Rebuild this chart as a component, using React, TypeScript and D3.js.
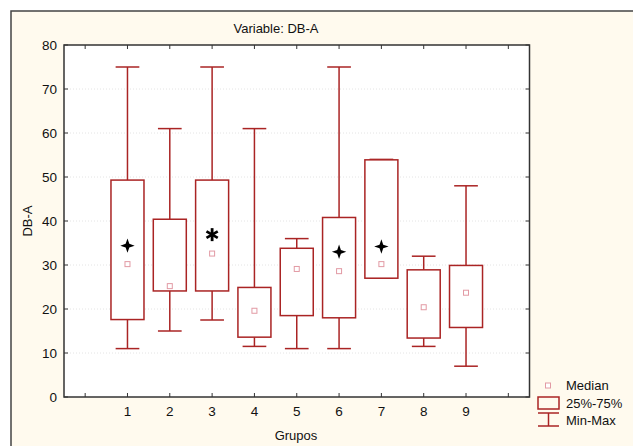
import React from "react";
import * as d3 from "d3";

const groups = [1, 2, 3, 4, 5, 6, 7, 8, 9];
const minVals = [11, 15, 17.5, 11.5, 11, 11, 27, 11.5, 7];
const q1Vals = [17.6, 24.1, 24.1, 13.6, 18.5, 18.0, 27.0, 13.4, 15.8];
const medianVals = [30.2, 25.2, 32.6, 19.6, 29.1, 28.6, 30.2, 20.4, 23.7];
const q3Vals = [49.3, 40.4, 49.3, 24.9, 33.8, 40.8, 53.9, 28.9, 29.9];
const maxVals = [75, 61, 75, 61, 36, 75, 54, 32, 48];
const markerVals = [34.4, null, 36.9, null, null, 33.0, 34.2, null, null];
const markerShapes = ["star", null, "asterisk", null, null, "star", "star", null, null];
const yTicks = [0, 10, 20, 30, 40, 50, 60, 70, 80];
const xTickPositions = [0, 1, 2, 3, 4, 5, 6, 7, 8, 9, 10];

const W = 633;
const H = 446;
const plot = { left: 64, top: 45, right: 529.5, bottom: 397 };
const RED = "#aa2424";
const FONT = "Liberation Sans, Arial, sans-serif";

function starPath(cx: number, cy: number, r: number) {
  const ri = r * 0.36;
  const pts: [number, number][] = [];
  for (let i = 0; i < 8; i++) {
    const a = (Math.PI / 4) * i - Math.PI / 2;
    const rr = i % 2 === 0 ? r : ri;
    pts.push([cx + rr * Math.cos(a), cy + rr * Math.sin(a)]);
  }
  return "M" + pts.map((p) => p.join(",")).join("L") + "Z";
}

export default function App() {
  const x = d3.scaleLinear().domain([-0.5, 10.5]).range([plot.left, plot.right]);
  const y = d3.scaleLinear().domain([0, 80]).range([plot.bottom, plot.top]);
  const unit = x(1) - x(0);
  const boxHalf = unit * 0.39;
  const capHalf = unit * 0.28;

  return (
    <svg width={W} height={H} style={{ position: "absolute", left: 0, top: 0 }} fontFamily={FONT}>
      <rect x={0} y={0} width={W} height={H} fill="#ffffff" />
      <rect x={11} y={11} width={W + 20} height={H + 20} fill="#fffaee" stroke="#444" strokeWidth={1.5} />
      <text x={276} y={33} fontSize={13} textAnchor="middle" fill="#111">Variable: DB-A</text>
      <rect x={plot.left} y={plot.top} width={plot.right - plot.left} height={plot.bottom - plot.top} fill="#ffffff" />
      {yTicks.filter((t) => t > 0 && t < 80).map((t) => (
        <line key={"g" + t} x1={plot.left} x2={plot.right} y1={y(t)} y2={y(t)} stroke="#ddd" strokeWidth={0.8} strokeDasharray="1,2" />
      ))}
      {yTicks.map((t) => (
        <g key={"yt" + t}>
          <line x1={plot.left} x2={plot.left + 4} y1={y(t)} y2={y(t)} stroke="#333" />
          <line x1={plot.right} x2={plot.right - 4} y1={y(t)} y2={y(t)} stroke="#333" />
          <text x={57} y={y(t) + 4.8} fontSize={13.5} textAnchor="end" fill="#111">{t}</text>
        </g>
      ))}
      {xTickPositions.map((t) => (
        <g key={"xt" + t}>
          <line x1={x(t)} x2={x(t)} y1={plot.bottom} y2={plot.bottom - 4} stroke="#333" />
          <line x1={x(t)} x2={x(t)} y1={plot.top} y2={plot.top + 4} stroke="#333" />
        </g>
      ))}
      {groups.map((g) => (
        <text key={"xl" + g} x={x(g)} y={416} fontSize={13.5} textAnchor="middle" fill="#111">{g}</text>
      ))}
      <rect x={plot.left} y={plot.top} width={plot.right - plot.left} height={plot.bottom - plot.top} fill="none" stroke="#333" strokeWidth={1.5} />
      <text x={296} y={440} fontSize={13} textAnchor="middle" fill="#111">Grupos</text>
      <text transform={`translate(32,${(plot.top + plot.bottom) / 2}) rotate(-90)`} fontSize={13} textAnchor="middle" fill="#111">DB-A</text>
      {groups.map((g, i) => {
        const cx = x(g);
        return (
          <g key={"b" + g} stroke={RED} strokeWidth={1.5} fill="none">
            <line x1={cx} x2={cx} y1={y(maxVals[i])} y2={y(q3Vals[i])} />
            <line x1={cx} x2={cx} y1={y(q1Vals[i])} y2={y(minVals[i])} />
            <line x1={cx - capHalf} x2={cx + capHalf} y1={y(maxVals[i])} y2={y(maxVals[i])} />
            <line x1={cx - capHalf} x2={cx + capHalf} y1={y(minVals[i])} y2={y(minVals[i])} />
            <rect x={cx - boxHalf} y={y(q3Vals[i])} width={boxHalf * 2} height={y(q1Vals[i]) - y(q3Vals[i])} fill="#fff" />
            <rect x={cx - 2.5} y={y(medianVals[i]) - 2.5} width={5} height={5} stroke="#e29aa4" strokeWidth={1} fill="#fff" />
          </g>
        );
      })}
      {groups.map((g, i) => {
        const v = markerVals[i];
        if (v == null) return null;
        const cx = x(g);
        const cy = y(v);
        if (markerShapes[i] === "star") {
          return <path key={"m" + g} d={starPath(cx, cy, 7.2)} fill="#000" />;
        }
        return (
          <g key={"m" + g} stroke="#000" strokeWidth={2.8} strokeLinecap="butt">
            {[0, 60, 120].map((a) => (
              <line key={a} x1={cx} y1={cy - 6.5} x2={cx} y2={cy + 6.5} transform={`rotate(${a},${cx},${cy})`} />
            ))}
          </g>
        );
      })}
      <rect x={545.5} y={383} width={5} height={5} stroke="#e29aa4" strokeWidth={1} fill="#fff" />
      <text x={566} y={390} fontSize={13} fill="#111">Median</text>
      <rect x={538} y={397} width={21} height={12} stroke={RED} strokeWidth={1.5} fill="none" />
      <text x={566} y={408} fontSize={13} fill="#111">25%-75%</text>
      <g stroke={RED} strokeWidth={1.5}>
        <line x1={538} x2={559} y1={413} y2={413} />
        <line x1={548.5} x2={548.5} y1={413} y2={426} />
        <line x1={538} x2={559} y1={426} y2={426} />
      </g>
      <text x={566} y={425} fontSize={13} fill="#111">Min-Max</text>
    </svg>
  );
}
